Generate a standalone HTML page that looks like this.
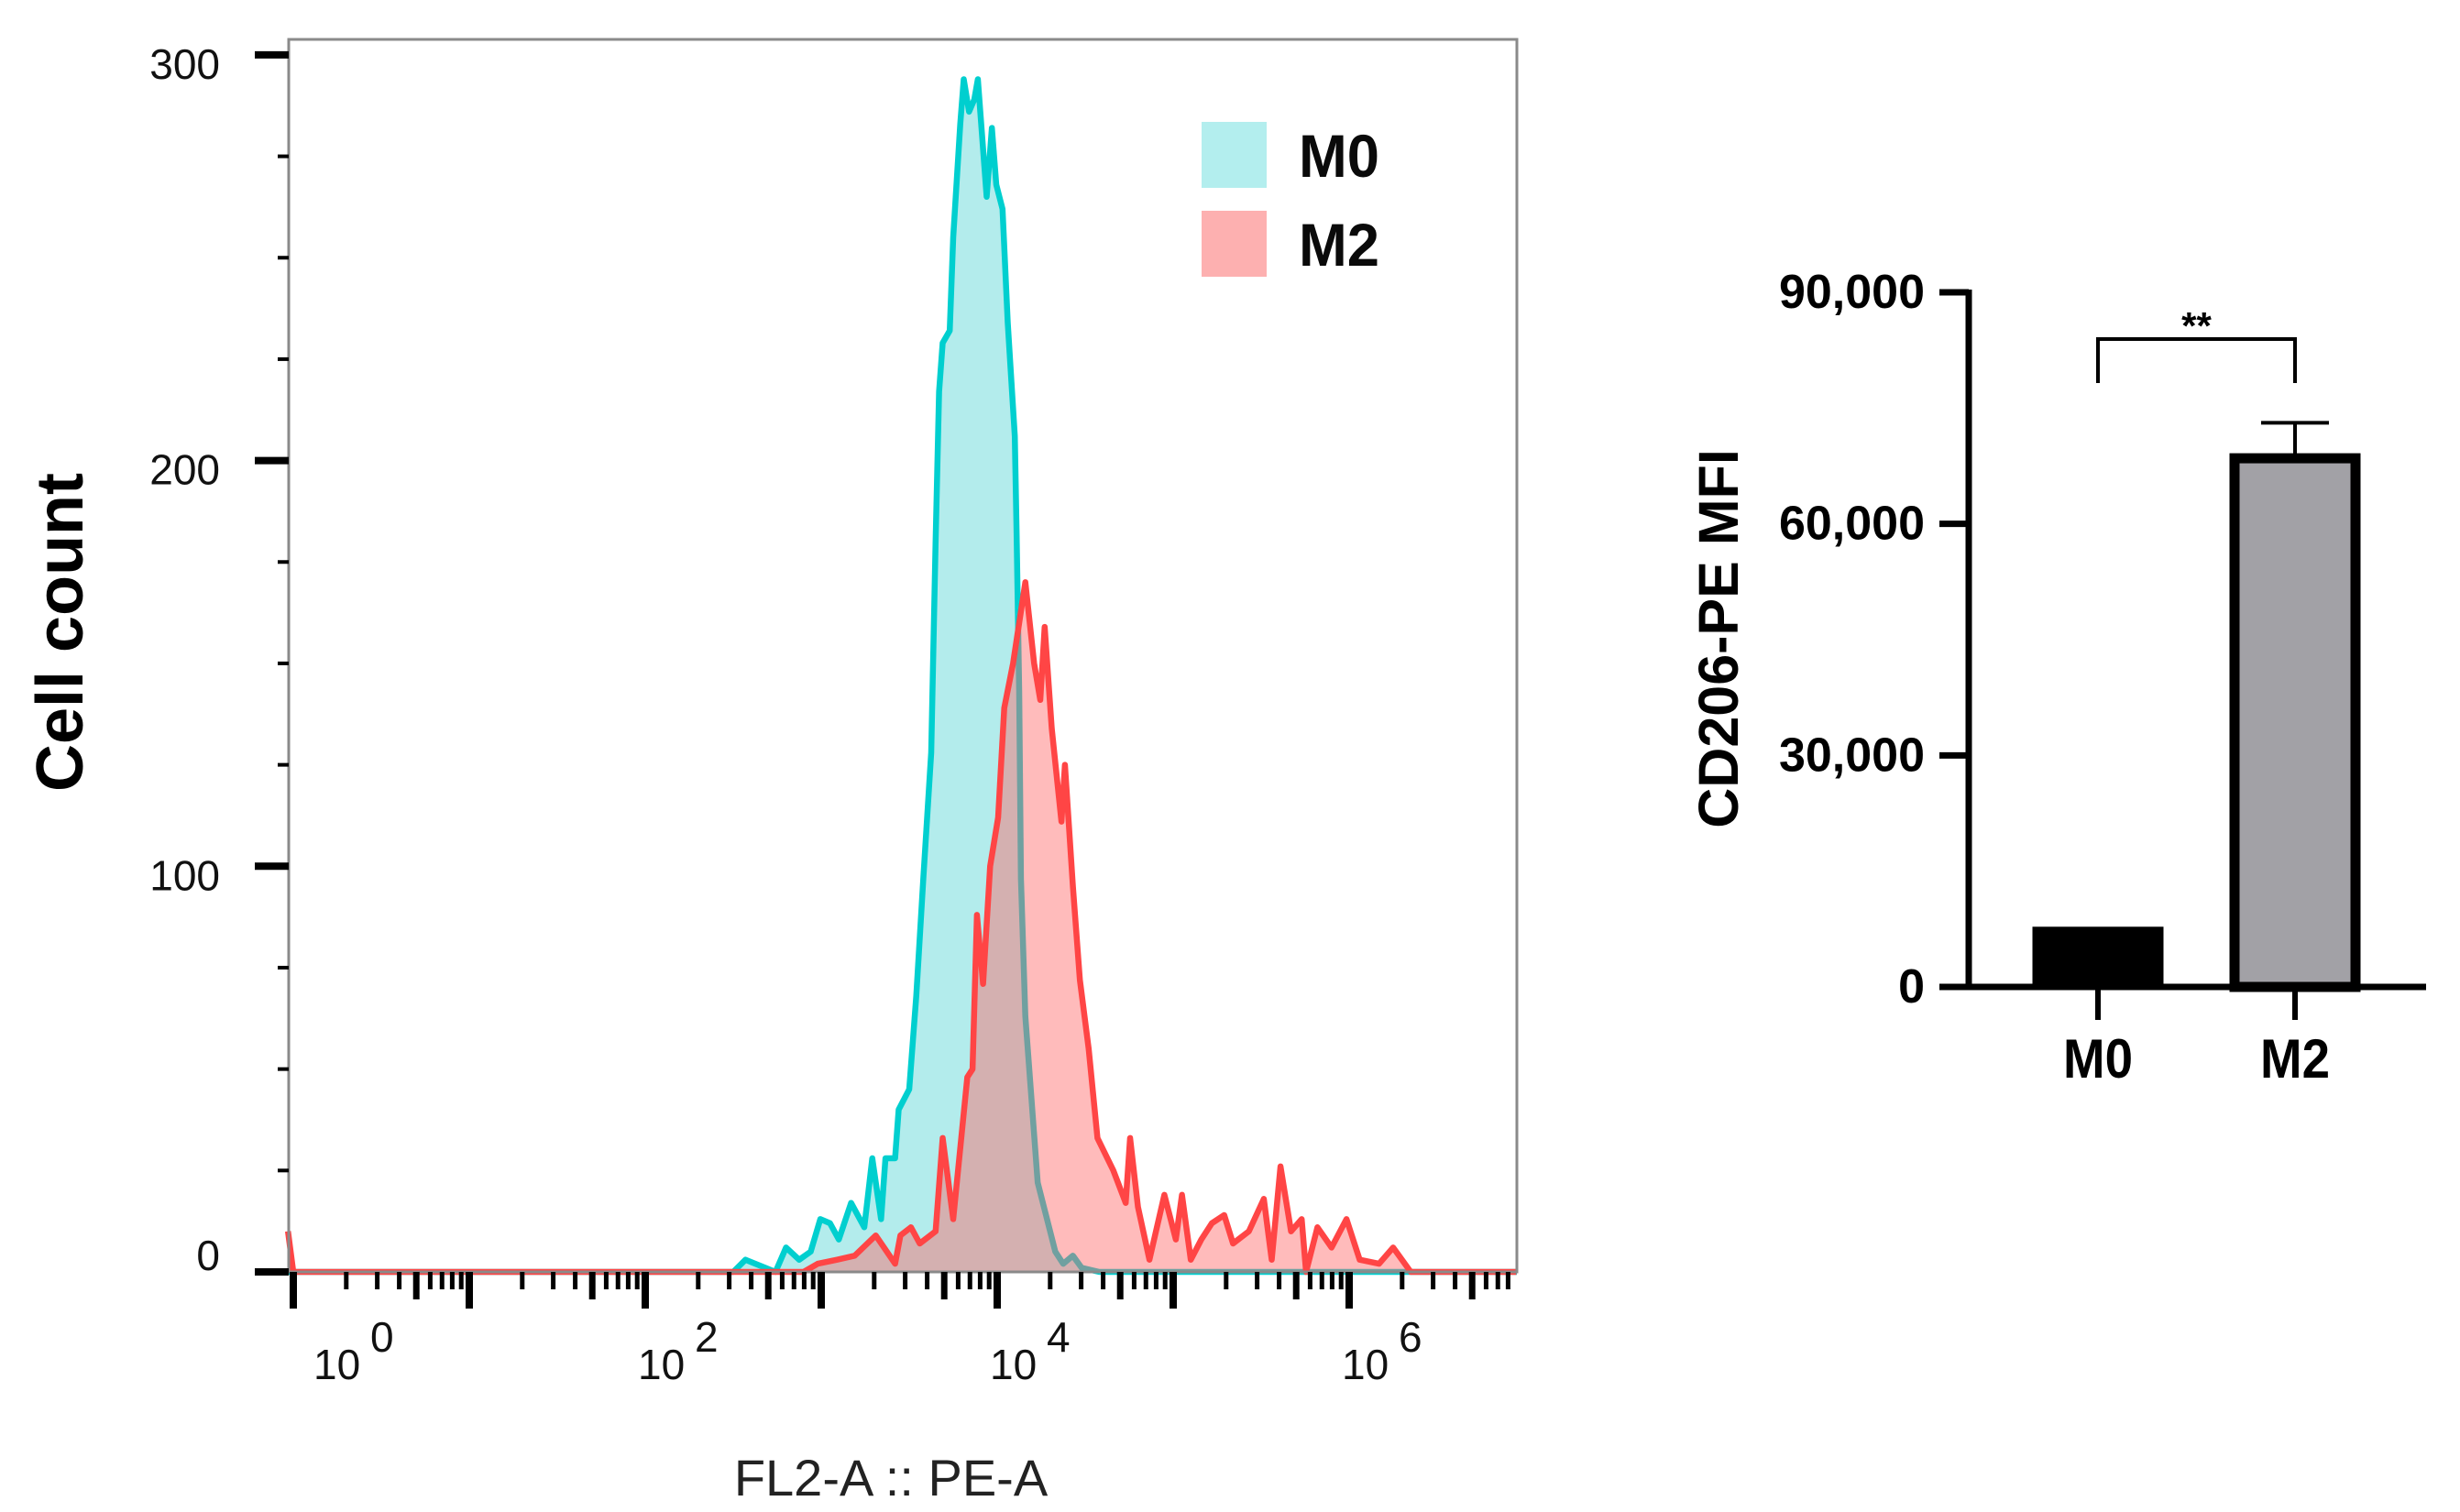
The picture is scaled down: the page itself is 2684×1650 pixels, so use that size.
<!DOCTYPE html>
<html><head><meta charset="utf-8"><style>
html,body{margin:0;padding:0;background:#fff;}
svg{display:block;font-family:"Liberation Sans",Arial,sans-serif;}
</style></head><body>
<svg id="fig" width="2684" height="1650" viewBox="0 0 2684 1650" xmlns="http://www.w3.org/2000/svg">
<g id="hist"></g>
<g id="bars"></g>
</svg>
<script>
// ---------- Histogram data (x in log10 units, y = cell count) ----------
const m0Log = [2.5,2.57,2.74,2.80,2.875,2.94,2.995,3.05,3.10,3.17,3.245,3.29,3.34,3.365,3.42,3.44,3.50,3.54,3.58,3.625,3.65,3.67,3.69,3.73,3.75,3.79,3.81,3.84,3.87,3.89,3.94,3.97,3.995,4.03,4.06,4.10,4.11,4.125,4.135,4.16,4.23,4.33,4.375,4.43,4.48,4.58];
const m0Count = [0,3,0,6,3,5,13,12,8,17,11,28,13,28,28,40,45,68,97,128,180,217,229,232,255,283,294,286,289,294,265,282,268,262,234,206,183,143,97,63,22,5,2,4,1,0];
const m2Log = [-0.03,0.0,2.9,2.98,3.09,3.19,3.31,3.42,3.45,3.51,3.56,3.65,3.69,3.75,3.83,3.86,3.885,3.92,3.96,4.005,4.04,4.09,4.16,4.21,4.245,4.27,4.31,4.365,4.385,4.43,4.47,4.52,4.57,4.66,4.73,4.755,4.80,4.865,4.95,5.015,5.05,5.10,5.16,5.22,5.29,5.34,5.43,5.515,5.56,5.61,5.67,5.73,5.755,5.82,5.90,5.985,6.06,6.17,6.25,6.35,6.95];
const m2Count = [10,0,0,2,3,4,9,2,9,11,7,10,33,13,48,50,88,71,100,112,139,150,170,150,141,159,134,111,125,95,72,55,33,25,17,33,16,3,19,8,19,3,8,12,14,7,10,18,3,26,10,13,0,11,6,13,3,2,6,0,0];
const yTicks = [0,100,200,300];
const xDecadeLabels = [0,2,4,6];
const legendNames = ["M0","M2"];
// ---------- Bar chart data ----------
const barCats = ["M0","M2"];
const barVals = [7800,68500];
const barErr = [0,4600];
const barTicks = [0,30000,60000,90000];
const barTickLabels = ["0","30,000","60,000","90,000"];

const NS="http://www.w3.org/2000/svg";
function mk(parent,tag,attrs,text){const e=document.createElementNS(NS,tag);for(const k in attrs)e.setAttribute(k,attrs[k]);if(text!==undefined)e.textContent=text;parent.appendChild(e);return e;}

// ----- Histogram -----
const H=document.getElementById('hist');
const L=315,R=1655,T=43,B=1388;
const xs=v=>320+v*192;
const ys=c=>1388-c*4.427;
function areaPath(lx,cy){let d=`M${xs(lx[0])},${B}`;for(let i=0;i<lx.length;i++)d+=` L${xs(lx[i]).toFixed(1)},${ys(cy[i]).toFixed(1)}`;d+=` L${xs(lx[lx.length-1])},${B} Z`;return d;}
function linePath(lx,cy){let d='';for(let i=0;i<lx.length;i++)d+=(i?' L':'M')+xs(lx[i]).toFixed(1)+','+ys(cy[i]).toFixed(1);return d;}
let e;
e=mk(H,'path',{d:areaPath(m0Log,m0Count),fill:'#b3ecec',stroke:'none'});


e=mk(H,'path',{d:`M${L},${B} L${xs(m0Log[0])},${B} `+linePath(m0Log,m0Count).replace('M','L')+` L${R},${B}`,fill:'none',stroke:'#00cfcf','stroke-width':6.5,'stroke-linejoin':'round'});


e=mk(H,'path',{d:areaPath(m2Log,m2Count),fill:'rgba(255,100,100,0.44)',stroke:'none'});


e=mk(H,'path',{d:linePath(m2Log,m2Count),fill:'none',stroke:'#ff4545','stroke-width':6.5,'stroke-linejoin':'round'});


e=mk(H,'rect',{x:L,y:T,width:R-L,height:B-T,fill:'none',stroke:'#8a8a8a','stroke-width':3});


// y ticks
for(let v=0;v<=300;v+=25){const major=v%100===0;
 e=mk(H,'line',{x1:major?278:303,x2:L,y1:ys(v),y2:ys(v),stroke:'#000','stroke-width':major?8:4});
 
 }
yTicks.forEach(v=>{e=mk(H,'text',{x:240,y:ys(v)+(v===0?-18:10),'text-anchor':'end','dominant-baseline':'central','font-size':46,fill:'#111'},String(v));
 
 });
// x ticks
for(let d=0;d<=6;d++){
 e=mk(H,'line',{x1:xs(d),x2:xs(d),y1:B,y2:1428,stroke:'#000','stroke-width':8});
 
 
 for(let m=2;m<=9;m++){const p=xs(d+Math.log10(m));if(p>R-4)continue;
  e=mk(H,'line',{x1:p,x2:p,y1:B,y2:m===5?1418:1407,stroke:'#000','stroke-width':m===5?7:5});
  
  }
}
xDecadeLabels.forEach(d=>{const g=mk(H,'g',{});
 
 
 const off=d===0?22:-8;
 mk(g,'text',{x:xs(d)+off,y:1505,'font-size':46,fill:'#111'},'10');
 mk(g,'text',{x:xs(d)+off+62,y:1475,'font-size':46,fill:'#111'},String(d));});
e=mk(H,'text',{x:972,y:1632,'text-anchor':'middle','font-size':56,fill:'#222'},'FL2-A :: PE-A');


e=mk(H,'text',{x:0,y:0,'text-anchor':'middle','font-size':72,'font-weight':'bold',fill:'#000',transform:'translate(90,690) rotate(-90)'},'Cell count');


const legCols=['#b3eeee','#fdb0b0'];
legendNames.forEach((n,i)=>{const g=mk(H,'g',{});
 
 
 mk(g,'rect',{x:1311,y:133+i*97,width:71,height:72,fill:legCols[i]});
 mk(g,'text',{x:1417,y:193+i*97,'font-size':66,'font-weight':'bold',fill:'#0a0a0a',textLength:88,lengthAdjust:'spacingAndGlyphs'},n);});

// ----- Bar chart -----
const Bc=document.getElementById('bars');
const B0=1077;
const by=v=>B0-v*0.008422;
const bx=i=>2289+i*215;
const bw=143;
barCats.forEach((c,i)=>{
 if(i===0){e=mk(Bc,'rect',{x:bx(i)-bw/2,y:by(barVals[i]),width:bw,height:B0-by(barVals[i]),fill:'#000'});}
 else{e=mk(Bc,'rect',{x:bx(i)-bw/2+5.5,y:by(barVals[i]),width:bw-11,height:B0-by(barVals[i]),fill:'#a2a1a6',stroke:'#000','stroke-width':11});}
 
 
 if(barErr[i]>0){const g=mk(Bc,'g',{stroke:'#000','stroke-width':4});
  
  
  mk(g,'line',{x1:bx(i),x2:bx(i),y1:by(barVals[i]),y2:by(barVals[i]+barErr[i])});
  mk(g,'line',{x1:bx(i)-37,x2:bx(i)+37,y1:by(barVals[i]+barErr[i]),y2:by(barVals[i]+barErr[i])});}
 e=mk(Bc,'line',{x1:bx(i),x2:bx(i),y1:B0,y2:B0+36,stroke:'#000','stroke-width':6});
 
 
 e=mk(Bc,'text',{x:bx(i),y:1176,'text-anchor':'middle','font-size':60,'font-weight':'bold',fill:'#000',textLength:76,lengthAdjust:'spacingAndGlyphs'},c);
 
 
});
e=mk(Bc,'line',{x1:2148,x2:2148,y1:by(90000)-3,y2:B0+3,stroke:'#000','stroke-width':7});


e=mk(Bc,'line',{x1:2116,x2:2647,y1:B0,y2:B0,stroke:'#000','stroke-width':7});


barTicks.forEach((v,i)=>{
 e=mk(Bc,'line',{x1:2116,x2:2148,y1:by(v),y2:by(v),stroke:'#000','stroke-width':7});
 
 
 e=mk(Bc,'text',{x:2100,y:by(v),'text-anchor':'end','dominant-baseline':'central','font-size':52,'font-weight':'bold',fill:'#000'},barTickLabels[i]);
 
 
});
e=mk(Bc,'path',{d:`M${bx(0)},418 L${bx(0)},370 L${bx(1)},370 L${bx(1)},418`,fill:'none',stroke:'#000','stroke-width':4});


e=mk(Bc,'text',{x:(bx(0)+bx(1))/2,y:370,'text-anchor':'middle','font-size':42,'font-weight':'bold',fill:'#000'},'**');


e=mk(Bc,'text',{x:0,y:0,'text-anchor':'middle','font-size':61,'font-weight':'bold',fill:'#000',transform:'translate(1896,697) rotate(-90)'},'CD206-PE MFI');


</script>
</body></html>
